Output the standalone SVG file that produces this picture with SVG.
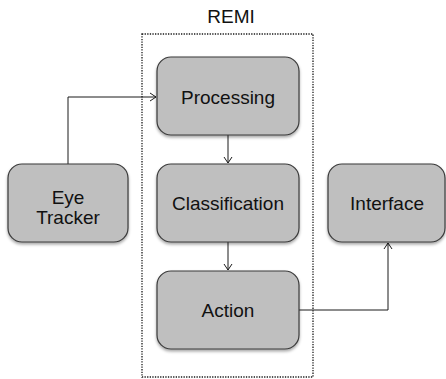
<svg xmlns="http://www.w3.org/2000/svg" width="446" height="379" viewBox="0 0 446 379">
<style>
.box{fill:#bfbfbf;stroke:#3a3a3a;stroke-width:1.2;filter:url(#sh)}
.t{font-family:"Liberation Sans",Arial,sans-serif;font-size:19px;fill:#111;text-anchor:middle}
.c{fill:none;stroke:#1a1a1a;stroke-width:1}
</style>
<defs>
<filter id="sh" x="-10%" y="-10%" width="120%" height="130%">
<feDropShadow dx="0" dy="2" stdDeviation="1.5" flood-color="#000" flood-opacity="0.35"/>
</filter>
<marker id="a" markerWidth="10" markerHeight="10" refX="8" refY="5" orient="auto" markerUnits="userSpaceOnUse">
<path d="M2,1 L8,5 L2,9" fill="none" stroke="#1a1a1a" stroke-width="1"/>
</marker>
</defs>
<g id="remi">
<rect x="142" y="34" width="171" height="343" fill="none" stroke="#1a1a1a" stroke-width="1.3" stroke-dasharray="1.3,1.3"/>
<text class="t" x="231" y="23">REMI</text>
</g>
<g id="connectors">
<path class="c" d="M68,164 V97 H156" marker-end="url(#a)"/>
<path class="c" d="M228,135 V163" marker-end="url(#a)"/>
<path class="c" d="M228,242 V270" marker-end="url(#a)"/>
<path class="c" d="M299,310 H388 V243" marker-end="url(#a)"/>
</g>
<g id="processing">
<rect class="box" x="157" y="57" width="142" height="78" rx="14"/>
<text class="t" x="228" y="104">Processing</text>
</g>
<g id="classification">
<rect class="box" x="157" y="164" width="142" height="78" rx="14"/>
<text class="t" x="228" y="210">Classification</text>
</g>
<g id="action">
<rect class="box" x="157" y="271" width="142" height="78" rx="14"/>
<text class="t" x="228" y="317">Action</text>
</g>
<g id="eye-tracker">
<rect class="box" x="8" y="164" width="120" height="78" rx="14"/>
<text class="t" x="68" y="204">Eye</text>
<text class="t" x="68" y="224">Tracker</text>
</g>
<g id="interface">
<rect class="box" x="328" y="164" width="117" height="78" rx="14"/>
<text class="t" x="387" y="210">Interface</text>
</g>
</svg>
